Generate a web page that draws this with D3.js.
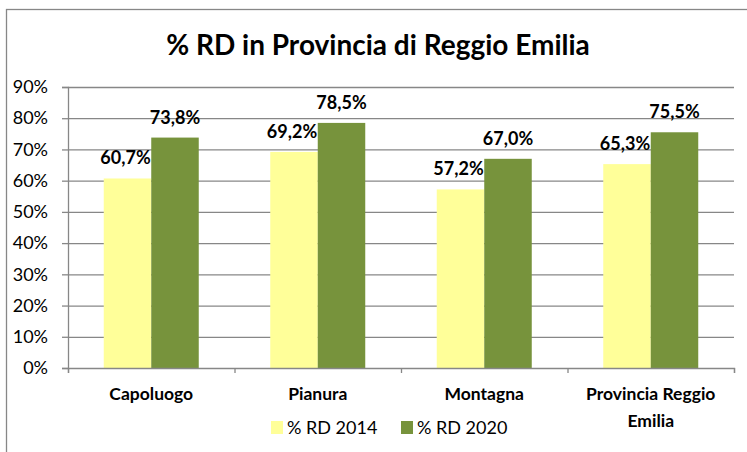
<!DOCTYPE html>
<html>
<head>
<meta charset="utf-8">
<script src="https://cdn.jsdelivr.net/npm/d3@7"></script>
<style>
  body { margin: 0; background: #fff; }
  svg { display: block; font-family: Lato, "Open Sans", sans-serif; }
</style>
</head>
<body>
<svg width="747" height="452"></svg>
<script>
// chart data
const categories = ["Capoluogo", "Pianura", "Montagna", "Provincia Reggio Emilia"];
const seriesNames = ["% RD 2014", "% RD 2020"];
const rd2014 = [60.7, 69.2, 57.2, 65.3];
const rd2020 = [73.8, 78.5, 67.0, 75.5];
const yTicks = [0, 10, 20, 30, 40, 50, 60, 70, 80, 90];

const colors = ["#FFFF99", "#77933C"];
const gridColor = "#878787";

const svg = d3.select("svg");
const plotLeft = 68, plotRight = 734, plotTop = 87, plotBottom = 368;

// outer frame of the chart
svg.append("rect")
  .attr("x", 6.5).attr("y", 9.5)
  .attr("width", 800).attr("height", 500)
  .attr("fill", "none").attr("stroke", gridColor).attr("stroke-width", 1.3);

svg.append("text")
  .attr("x", 378).attr("y", 55)
  .attr("text-anchor", "middle")
  .attr("font-size", 28).attr("font-weight", "bold")
  .text("% RD in Provincia di Reggio Emilia");

const y = d3.scaleLinear().domain([0, 90]).range([plotBottom, plotTop]);
const x0 = d3.scaleBand().domain(categories).range([plotLeft, plotRight]);
const pad = (x0.bandwidth() - 95) / 2;
const x1 = d3.scaleBand().domain(seriesNames).range([pad, x0.bandwidth() - pad]);

// gridlines
svg.append("g")
  .attr("transform", `translate(${plotLeft},0)`)
  .call(d3.axisLeft(y).tickValues(yTicks.slice(1)).tickSize(-(plotRight - plotLeft)).tickFormat(""))
  .call(g => g.select(".domain").remove())
  .call(g => g.selectAll("line").attr("stroke", gridColor).attr("stroke-width", 1.3));

// y axis
svg.append("g")
  .attr("transform", `translate(${plotLeft},0)`)
  .call(d3.axisLeft(y).tickValues(yTicks).tickSize(6).tickPadding(14).tickFormat(d => d + "%"))
  .call(g => g.select(".domain").attr("stroke", gridColor).attr("stroke-width", 1.3))
  .call(g => g.selectAll("line").attr("stroke", gridColor).attr("stroke-width", 1.3))
  .call(g => g.selectAll("text").attr("font-size", 18).attr("fill", "#000").attr("font-family", "Lato"));

// bars
const rows = categories.map((c, i) => ({ cat: c, vals: [rd2014[i], rd2020[i]] }));
const groups = svg.append("g").selectAll("g")
  .data(rows).join("g")
  .attr("transform", d => `translate(${x0(d.cat)},0)`);

groups.selectAll("rect")
  .data(d => d.vals.map((v, k) => ({ s: seriesNames[k], v, k })))
  .join("rect")
  .attr("x", d => x1(d.s))
  .attr("y", d => y(d.v))
  .attr("width", x1.bandwidth())
  .attr("height", d => y(0) - y(d.v))
  .attr("fill", d => colors[d.k]);

groups.selectAll("text")
  .data(d => d.vals.map((v, k) => ({ s: seriesNames[k], v, k })))
  .join("text")
  .attr("x", d => x1(d.s) + x1.bandwidth() / 2 - (d.k === 0 ? 2 : 0))
  .attr("y", d => y(d.v) - 14)
  .attr("text-anchor", "middle")
  .attr("font-size", 18).attr("font-weight", "bold")
  .text(d => d.v.toFixed(1).replace(".", ",") + "%");

// x axis with ticks on category boundaries
const xb = d3.scaleLinear().domain([0, categories.length]).range([plotLeft, plotRight]);
svg.append("g")
  .attr("transform", `translate(0,${plotBottom})`)
  .call(d3.axisBottom(xb).tickValues(d3.range(categories.length + 1)).tickSize(5).tickFormat(""))
  .call(g => g.select(".domain").attr("stroke", gridColor).attr("stroke-width", 1.3))
  .call(g => g.selectAll("line").attr("stroke", gridColor).attr("stroke-width", 1.3));

// category labels
const catLines = [["Capoluogo"], ["Pianura"], ["Montagna"], ["Provincia Reggio", "Emilia"]];
svg.append("g").selectAll("text")
  .data(categories).join("text")
  .attr("x", d => x0(d) + x0.bandwidth() / 2)
  .attr("y", 400)
  .attr("text-anchor", "middle")
  .attr("font-size", 17.5).attr("font-weight", "bold")
  .selectAll("tspan")
  .data((d, i) => catLines[i]).join("tspan")
  .attr("x", function () { return this.parentNode.getAttribute("x"); })
  .attr("dy", (d, i) => i === 0 ? 0 : 27)
  .text(d => d);

// legend
const legendX = [271, 401];
const legend = svg.append("g").selectAll("g")
  .data(seriesNames).join("g")
  .attr("transform", (d, i) => `translate(${legendX[i]},421)`);
legend.append("rect")
  .attr("width", 12).attr("height", 13)
  .attr("fill", (d, i) => colors[i]);
legend.append("text")
  .attr("x", 16).attr("y", 13)
  .attr("font-size", 18)
  .text(d => d);
</script>
</body>
</html>
